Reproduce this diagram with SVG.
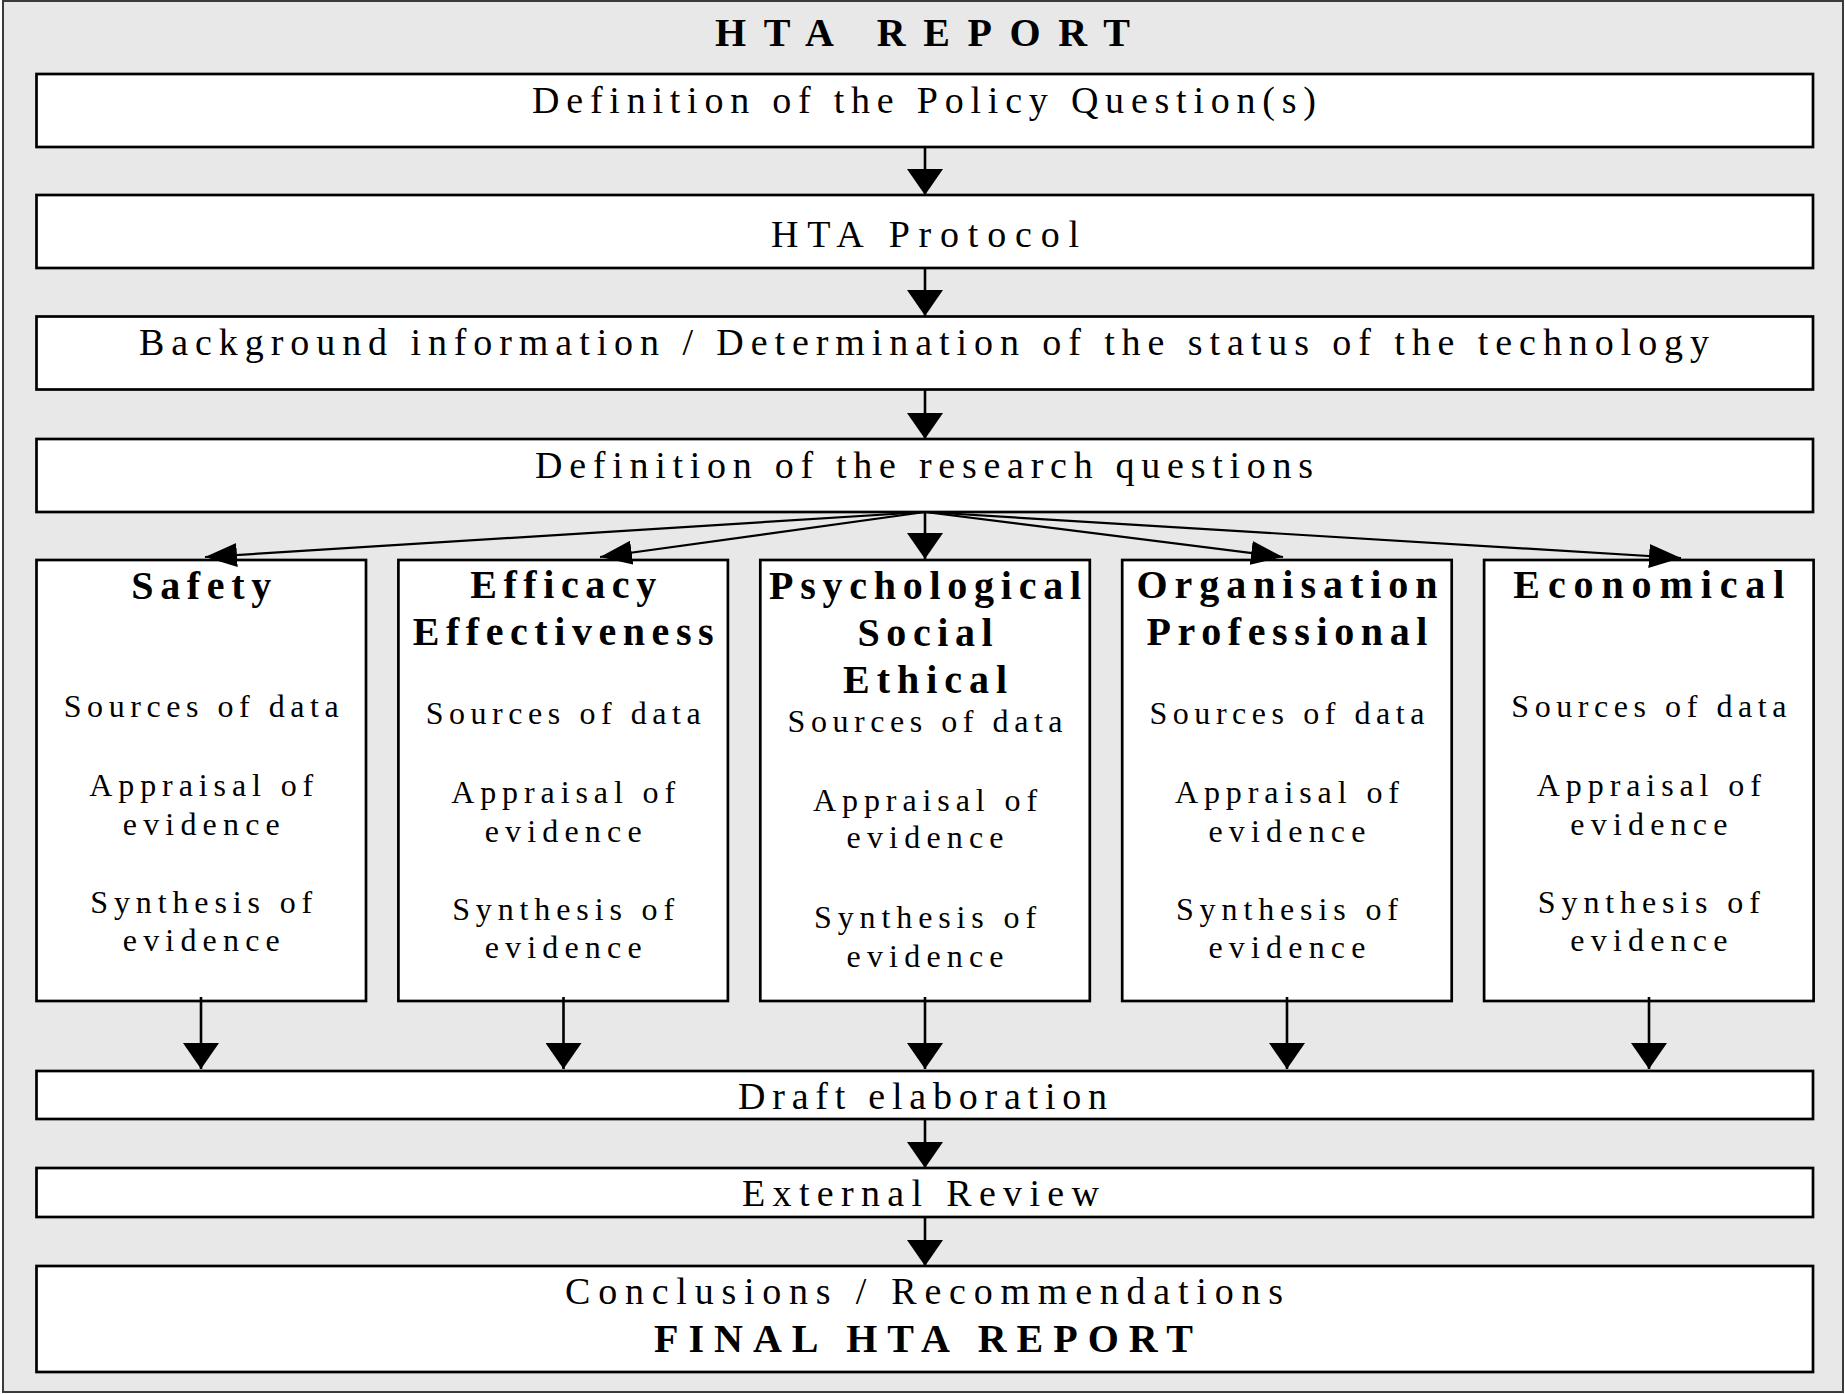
<svg xmlns="http://www.w3.org/2000/svg" width="1845" height="1394" viewBox="0 0 1845 1394">
<style>
text{font-family:'Liberation Serif','Times New Roman',serif;fill:#000}
.box{fill:#fff;stroke:#000;stroke-width:2.7}
.t{font-size:38px}
.b{font-weight:bold;font-size:40px}
.s{font-size:32px}
.ln{stroke:#000;stroke-width:2.6;fill:none}
.fl{stroke:#000;stroke-width:2.2;fill:none}
</style>
<defs>
<marker id="ah" markerUnits="userSpaceOnUse" markerWidth="26" markerHeight="36" viewBox="0 0 26 36" refX="26" refY="18" orient="auto"><path d="M0,0 L26,18 L0,36 z" fill="#000"/></marker>
<marker id="ahf" markerUnits="userSpaceOnUse" markerWidth="32" markerHeight="24" viewBox="0 0 32 24" refX="32" refY="12" orient="auto"><path d="M0,0 L32,12 L0,24 z" fill="#000"/></marker>
</defs>
<rect x="3" y="1" width="1840" height="1391" fill="#e8e8e8" stroke="#3a3a3a" stroke-width="2"/>
<text class="b" x="715" y="46" font-size="47" textLength="415" lengthAdjust="spacing">HTA REPORT</text>

<g id="policy"><rect class="box" x="36.5" y="74" width="1776.5" height="73"/><text class="t" x="532" y="113" textLength="784" lengthAdjust="spacing">Definition of the Policy Question(s)</text></g>
<g id="protocol"><rect class="box" x="36.5" y="195" width="1776.5" height="73"/><text class="t" x="771" y="247" textLength="308" lengthAdjust="spacing">HTA Protocol</text></g>
<g id="background"><rect class="box" x="36.5" y="316.5" width="1776.5" height="73"/><text class="t" x="139" y="355" textLength="1570" lengthAdjust="spacing">Background information / Determination of the status of the technology</text></g>
<g id="research"><rect class="box" x="36.5" y="439" width="1776.5" height="73"/><text class="t" x="535" y="478" textLength="778" lengthAdjust="spacing">Definition of the research questions</text></g>

<g id="safety"><rect class="box" x="36.5" y="560" width="329.5" height="441"/>
<text class="b" x="131.25" y="599" textLength="140" lengthAdjust="spacing">Safety</text>
<text class="s" x="63.75" y="717" textLength="275" lengthAdjust="spacing">Sources of data</text>
<text class="s" x="89.25" y="796" textLength="224" lengthAdjust="spacing">Appraisal of</text>
<text class="s" x="122.75" y="835" textLength="157" lengthAdjust="spacing">evidence</text>
<text class="s" x="90.25" y="913" textLength="222" lengthAdjust="spacing">Synthesis of</text>
<text class="s" x="122.75" y="951" textLength="157" lengthAdjust="spacing">evidence</text></g>

<g id="efficacy"><rect class="box" x="398.4" y="560" width="329.5" height="441"/>
<text class="b" x="470.15" y="598" textLength="186" lengthAdjust="spacing">Efficacy</text>
<text class="b" x="412.65" y="645" textLength="301" lengthAdjust="spacing">Effectiveness</text>
<text class="s" x="425.65" y="724" textLength="275" lengthAdjust="spacing">Sources of data</text>
<text class="s" x="451.15" y="803" textLength="224" lengthAdjust="spacing">Appraisal of</text>
<text class="s" x="484.65" y="842" textLength="157" lengthAdjust="spacing">evidence</text>
<text class="s" x="452.15" y="920" textLength="222" lengthAdjust="spacing">Synthesis of</text>
<text class="s" x="484.65" y="958" textLength="157" lengthAdjust="spacing">evidence</text></g>

<g id="psychological"><rect class="box" x="760.3" y="560" width="329.5" height="441"/>
<text class="b" x="769.05" y="599" textLength="312" lengthAdjust="spacing">Psychological</text>
<text class="b" x="857.55" y="646" textLength="135" lengthAdjust="spacing">Social</text>
<text class="b" x="843.05" y="693" textLength="164" lengthAdjust="spacing">Ethical</text>
<text class="s" x="787.55" y="732" textLength="275" lengthAdjust="spacing">Sources of data</text>
<text class="s" x="813.05" y="811" textLength="224" lengthAdjust="spacing">Appraisal of</text>
<text class="s" x="846.55" y="848" textLength="157" lengthAdjust="spacing">evidence</text>
<text class="s" x="814.05" y="928" textLength="222" lengthAdjust="spacing">Synthesis of</text>
<text class="s" x="846.55" y="967" textLength="157" lengthAdjust="spacing">evidence</text></g>

<g id="organisation"><rect class="box" x="1122.2" y="560" width="329.5" height="441"/>
<text class="b" x="1136.45" y="598" textLength="301" lengthAdjust="spacing">Organisation</text>
<text class="b" x="1146.45" y="645" textLength="281" lengthAdjust="spacing">Professional</text>
<text class="s" x="1149.45" y="724" textLength="275" lengthAdjust="spacing">Sources of data</text>
<text class="s" x="1174.95" y="803" textLength="224" lengthAdjust="spacing">Appraisal of</text>
<text class="s" x="1208.45" y="842" textLength="157" lengthAdjust="spacing">evidence</text>
<text class="s" x="1175.95" y="920" textLength="222" lengthAdjust="spacing">Synthesis of</text>
<text class="s" x="1208.45" y="958" textLength="157" lengthAdjust="spacing">evidence</text></g>

<g id="economical"><rect class="box" x="1484.1" y="560" width="329.5" height="441"/>
<text class="b" x="1513.35" y="598" textLength="271" lengthAdjust="spacing">Economical</text>
<text class="s" x="1511.35" y="717" textLength="275" lengthAdjust="spacing">Sources of data</text>
<text class="s" x="1536.85" y="796" textLength="224" lengthAdjust="spacing">Appraisal of</text>
<text class="s" x="1570.35" y="835" textLength="157" lengthAdjust="spacing">evidence</text>
<text class="s" x="1537.85" y="913" textLength="222" lengthAdjust="spacing">Synthesis of</text>
<text class="s" x="1570.35" y="951" textLength="157" lengthAdjust="spacing">evidence</text></g>

<g id="draft"><rect class="box" x="36.5" y="1071" width="1776.5" height="48"/><text class="t" x="738" y="1109" textLength="369" lengthAdjust="spacing">Draft elaboration</text></g>
<g id="review"><rect class="box" x="36.5" y="1168" width="1776.5" height="49"/><text class="t" x="742" y="1206" textLength="357" lengthAdjust="spacing">External Review</text></g>
<g id="final"><rect class="box" x="36.5" y="1266" width="1776.5" height="106"/><text class="t" x="565" y="1304" textLength="718" lengthAdjust="spacing">Conclusions / Recommendations</text><text class="b" x="654" y="1352" font-size="41" textLength="539" lengthAdjust="spacing">FINAL HTA REPORT</text></g>

<g id="connectors">
<line class="ln" x1="925" y1="147" x2="925" y2="195" marker-end="url(#ah)"/>
<line class="ln" x1="925" y1="268" x2="925" y2="316" marker-end="url(#ah)"/>
<line class="ln" x1="925" y1="390" x2="925" y2="439" marker-end="url(#ah)"/>
<line class="fl" x1="925" y1="512" x2="205" y2="557" marker-end="url(#ahf)"/>
<line class="fl" x1="925" y1="512" x2="600" y2="557" marker-end="url(#ahf)"/>
<line class="ln" x1="925" y1="512" x2="925" y2="559" marker-end="url(#ah)"/>
<line class="fl" x1="925" y1="512" x2="1283" y2="557" marker-end="url(#ahf)"/>
<line class="fl" x1="925" y1="512" x2="1681" y2="558" marker-end="url(#ahf)"/>
<line class="ln" x1="201" y1="997" x2="201" y2="1069" marker-end="url(#ah)"/>
<line class="ln" x1="563.5" y1="997" x2="563.5" y2="1069" marker-end="url(#ah)"/>
<line class="ln" x1="925" y1="997" x2="925" y2="1069" marker-end="url(#ah)"/>
<line class="ln" x1="1287" y1="997" x2="1287" y2="1069" marker-end="url(#ah)"/>
<line class="ln" x1="1649" y1="997" x2="1649" y2="1069" marker-end="url(#ah)"/>
<line class="ln" x1="925" y1="1119" x2="925" y2="1168" marker-end="url(#ah)"/>
<line class="ln" x1="925" y1="1217" x2="925" y2="1266" marker-end="url(#ah)"/>
</g>
</svg>
